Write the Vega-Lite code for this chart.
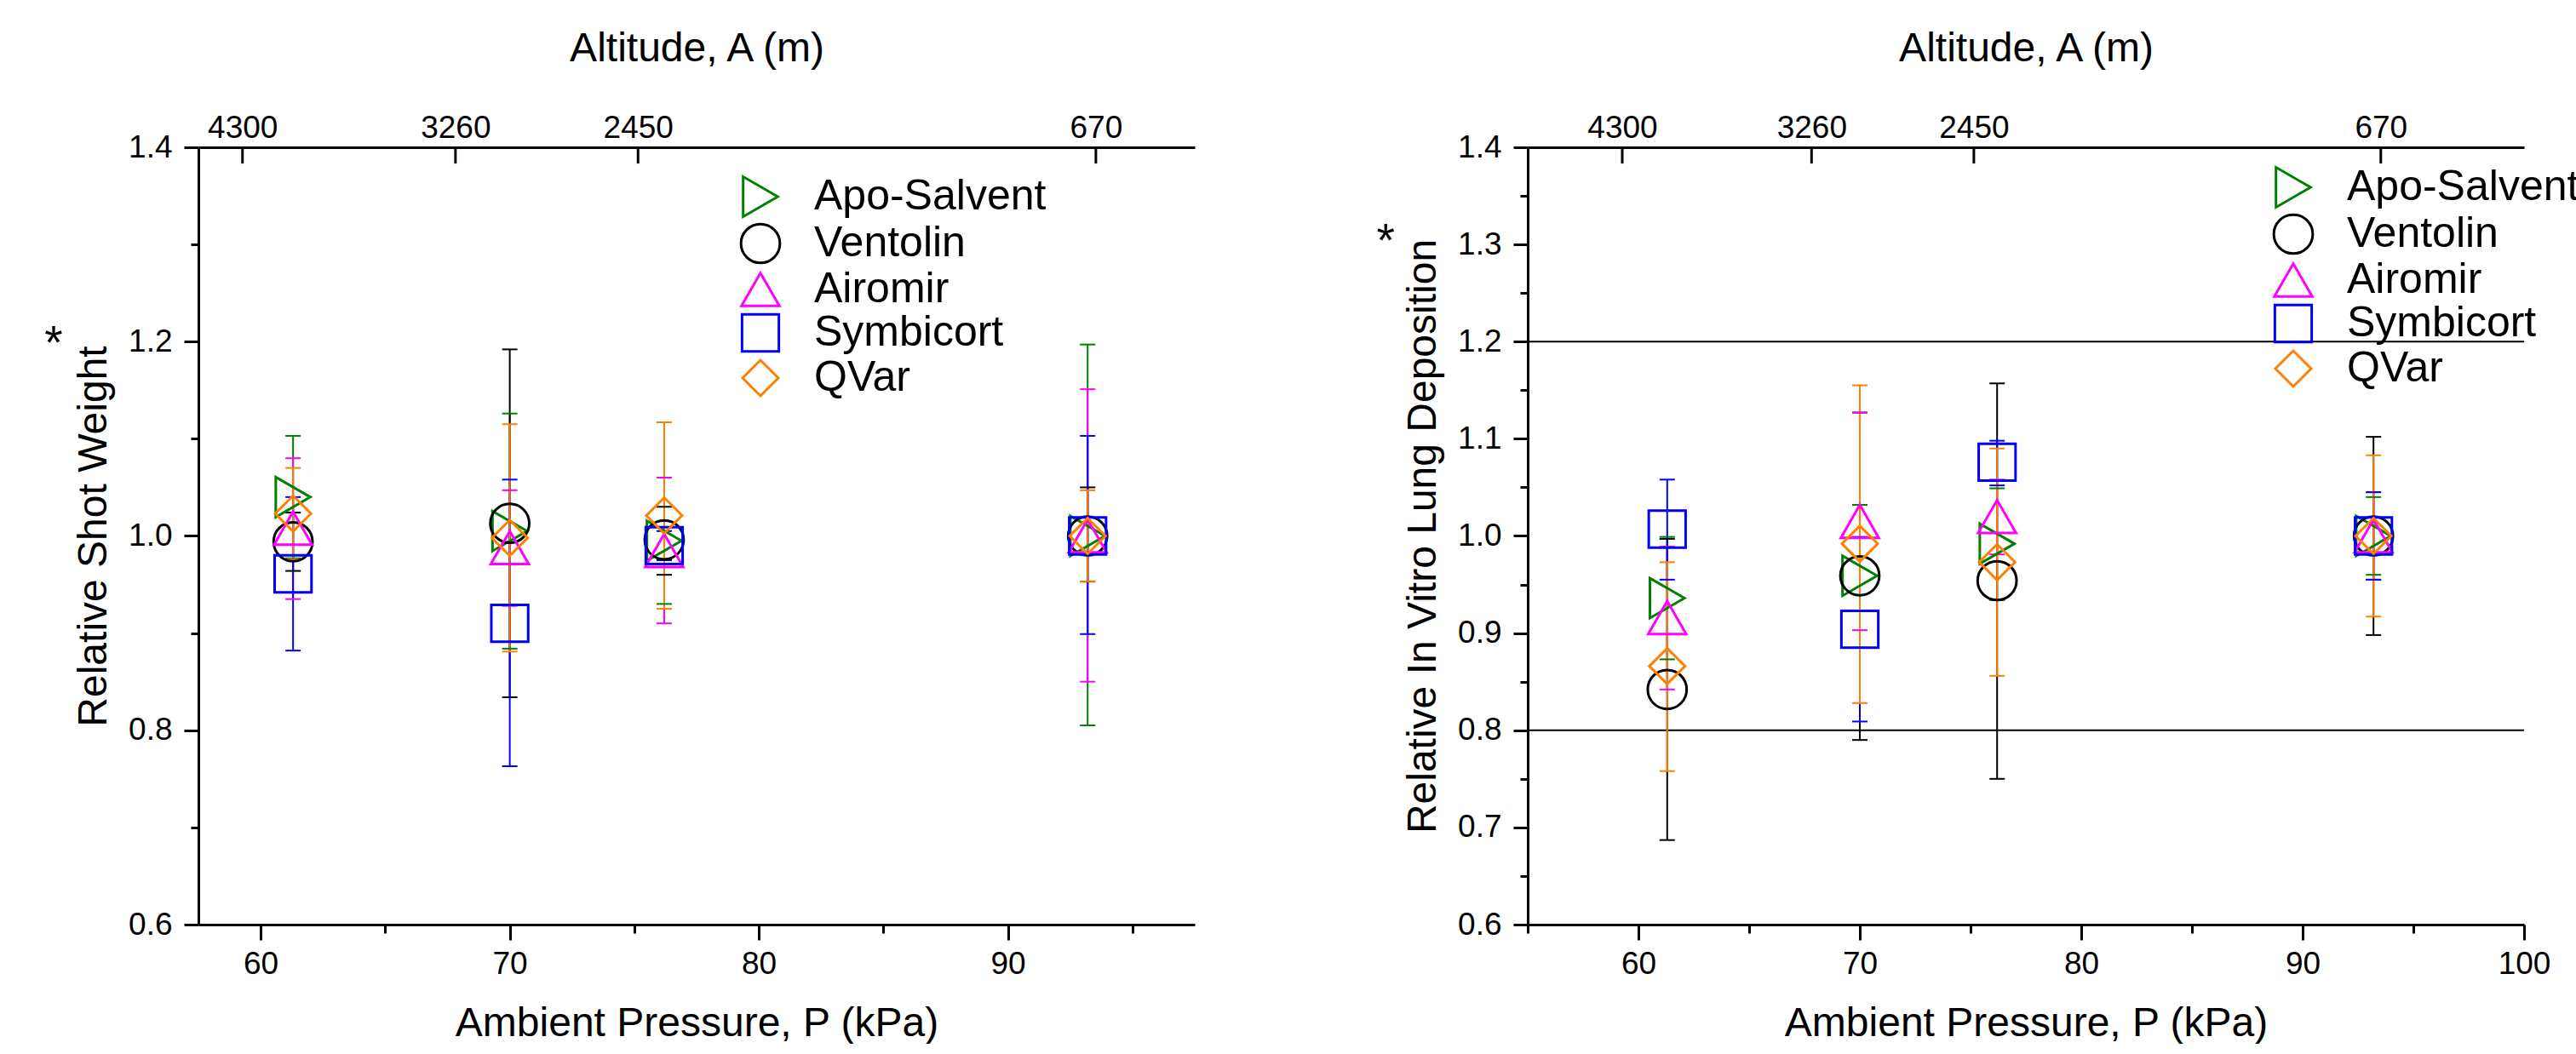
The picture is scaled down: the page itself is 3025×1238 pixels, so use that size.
{
  "$schema": "https://vega.github.io/schema/vega-lite/v6.json",
  "background": "white",
  "padding": {"left": 52, "top": 33, "right": 0, "bottom": 0},
  "spacing": 391,
  "bounds": "flush",
  "config": {
    "font": "Liberation Sans",
    "view": {"stroke": null},
    "axis": {
      "domainColor": "black", "domainWidth": 3, "tickColor": "black", "tickWidth": 3,
      "labelColor": "black", "labelFontSize": 37, "labelFont": "Liberation Sans",
      "titleColor": "black", "titleFontSize": 48, "titleFontWeight": "normal", "titleFont": "Liberation Sans",
      "grid": false, "labelOverlap": false, "labelFlush": false
    },
    "legend": {
      "labelFont": "Liberation Sans", "labelFontSize": 50, "labelColor": "black", "labelLimit": 1000,
      "symbolStrokeWidth": 3, "padding": 0, "rowPadding": -4
    }
  },
  "datasets": {
    "sw": [
      {"product": "Apo-Salvent", "P": 61.3, "mean": 1.040, "lo": 0.977, "hi": 1.103},
      {"product": "Ventolin", "P": 61.3, "mean": 0.994, "lo": 0.964, "hi": 1.024},
      {"product": "Airomir", "P": 61.3, "mean": 1.008, "lo": 0.935, "hi": 1.080},
      {"product": "Symbicort", "P": 61.3, "mean": 0.961, "lo": 0.882, "hi": 1.040},
      {"product": "QVar", "P": 61.3, "mean": 1.023, "lo": 0.976, "hi": 1.070},
      {"product": "Apo-Salvent", "P": 70.0, "mean": 1.005, "lo": 0.884, "hi": 1.126},
      {"product": "Ventolin", "P": 70.0, "mean": 1.013, "lo": 0.834, "hi": 1.192},
      {"product": "Airomir", "P": 70.0, "mean": 0.988, "lo": 0.928, "hi": 1.047},
      {"product": "Symbicort", "P": 70.0, "mean": 0.910, "lo": 0.763, "hi": 1.058},
      {"product": "QVar", "P": 70.0, "mean": 0.998, "lo": 0.881, "hi": 1.115},
      {"product": "Apo-Salvent", "P": 76.2, "mean": 0.995, "lo": 0.930, "hi": 1.060},
      {"product": "Ventolin", "P": 76.2, "mean": 0.996, "lo": 0.960, "hi": 1.030},
      {"product": "Airomir", "P": 76.2, "mean": 0.985, "lo": 0.910, "hi": 1.060},
      {"product": "Symbicort", "P": 76.2, "mean": 0.990, "lo": 0.975, "hi": 1.005},
      {"product": "QVar", "P": 76.2, "mean": 1.021, "lo": 0.925, "hi": 1.117},
      {"product": "Apo-Salvent", "P": 93.2, "mean": 1.000, "lo": 0.805, "hi": 1.197},
      {"product": "Ventolin", "P": 93.2, "mean": 1.000, "lo": 0.953, "hi": 1.050},
      {"product": "Airomir", "P": 93.2, "mean": 1.000, "lo": 0.850, "hi": 1.151},
      {"product": "Symbicort", "P": 93.2, "mean": 1.000, "lo": 0.899, "hi": 1.103},
      {"product": "QVar", "P": 93.2, "mean": 1.000, "lo": 0.953, "hi": 1.047}
    ],
    "ivld": [
      {"product": "Apo-Salvent", "P": 61.3, "mean": 0.936, "lo": 0.873, "hi": 0.999},
      {"product": "Ventolin", "P": 61.3, "mean": 0.842, "lo": 0.687, "hi": 0.997},
      {"product": "Airomir", "P": 61.3, "mean": 0.916, "lo": 0.842, "hi": 0.989},
      {"product": "Symbicort", "P": 61.3, "mean": 1.007, "lo": 0.955, "hi": 1.058},
      {"product": "QVar", "P": 61.3, "mean": 0.866, "lo": 0.758, "hi": 0.973},
      {"product": "Apo-Salvent", "P": 70.0, "mean": 0.959, "lo": 0.885, "hi": 1.032},
      {"product": "Ventolin", "P": 70.0, "mean": 0.959, "lo": 0.790, "hi": 1.127},
      {"product": "Airomir", "P": 70.0, "mean": 1.015, "lo": 0.903, "hi": 1.127},
      {"product": "Symbicort", "P": 70.0, "mean": 0.904, "lo": 0.809, "hi": 0.999},
      {"product": "QVar", "P": 70.0, "mean": 0.992, "lo": 0.828, "hi": 1.155},
      {"product": "Apo-Salvent", "P": 76.2, "mean": 0.992, "lo": 0.934, "hi": 1.049},
      {"product": "Ventolin", "P": 76.2, "mean": 0.954, "lo": 0.750, "hi": 1.157},
      {"product": "Airomir", "P": 76.2, "mean": 1.020, "lo": 0.981, "hi": 1.058},
      {"product": "Symbicort", "P": 76.2, "mean": 1.076, "lo": 1.052, "hi": 1.098},
      {"product": "QVar", "P": 76.2, "mean": 0.973, "lo": 0.856, "hi": 1.090},
      {"product": "Apo-Salvent", "P": 93.2, "mean": 1.000, "lo": 0.960, "hi": 1.040},
      {"product": "Ventolin", "P": 93.2, "mean": 1.000, "lo": 0.898, "hi": 1.102},
      {"product": "Airomir", "P": 93.2, "mean": 1.000, "lo": 0.955, "hi": 1.045},
      {"product": "Symbicort", "P": 93.2, "mean": 1.000, "lo": 0.955, "hi": 1.045},
      {"product": "QVar", "P": 93.2, "mean": 1.000, "lo": 0.917, "hi": 1.083}
    ],
    "alt": [
      {"A": 4300, "P": 59.27}, {"A": 3260, "P": 67.82}, {"A": 2450, "P": 75.15}, {"A": 670, "P": 93.53}
    ],
    "refs": [{"ref": 0.8}, {"ref": 1.2}],
    "star": [{"s": "*"}]
  },
  "resolve": {"scale": {"color": "independent", "shape": "independent", "size": "independent", "fill": "independent", "stroke": "independent"}},
  "hconcat": [
    {
      "width": 1170, "height": 913,
      "resolve": {"axis": {"x": "independent"}},
      "layer": [
        {
          "data": {"name": "alt"},
          "mark": {"type": "rule", "strokeWidth": 3, "color": "black"},
          "encoding": {
            "x": {"field": "P", "type": "quantitative", "scale": {"domain": [57.5, 97.5], "nice": false, "zero": false},
              "axis": {"orient": "top", "title": "Altitude, A (m)", "values": [59.27, 67.82, 75.15, 93.53],
                "labelExpr": "datum.value < 63 ? '4300' : datum.value < 72 ? '3260' : datum.value < 85 ? '2450' : '670'",
                "ticks": false, "labelPadding": 4, "titlePadding": 50}},
            "y": {"datum": 1.4, "type": "quantitative", "scale": {"domain": [0.6, 1.4], "nice": false, "zero": false}},
            "y2": {"datum": 1.3833}
          }
        },
        {
          "data": {"name": "star"},
          "mark": {"type": "text", "fontSize": 55, "align": "center", "baseline": "alphabetic", "color": "black", "font": "Liberation Sans"},
          "encoding": {
            "x": {"datum": 51.69, "type": "quantitative", "axis": null},
            "y": {"datum": 1.1826, "type": "quantitative"},
            "text": {"field": "s"}
          }
        },
        {
          "data": {"name": "sw"},
          "mark": {"type": "rule", "strokeWidth": 2},
          "encoding": {
            "x": {"field": "P", "type": "quantitative", "axis": null},
            "y": {"field": "lo", "type": "quantitative"},
            "y2": {"field": "hi"},
            "stroke": {"field": "product", "type": "nominal", "legend": null,
              "scale": {"domain": ["QVar", "Symbicort", "Airomir", "Ventolin", "Apo-Salvent"], "range": ["#FF8000", "#0000FF", "#FF00FF", "#000000", "#008000"]}}
          }
        },
        {
          "data": {"name": "sw"},
          "mark": {"type": "tick", "orient": "horizontal", "size": 18, "thickness": 2, "opacity": 1},
          "encoding": {
            "x": {"field": "P", "type": "quantitative", "axis": null},
            "y": {"field": "lo", "type": "quantitative"},
            "fill": {"field": "product", "type": "nominal", "legend": null,
              "scale": {"domain": ["Symbicort", "QVar", "Airomir", "Apo-Salvent", "Ventolin"], "range": ["#0000FF", "#FF8000", "#FF00FF", "#008000", "#000000"]}}
          }
        },
        {
          "data": {"name": "sw"},
          "mark": {"type": "tick", "orient": "horizontal", "size": 18, "thickness": 2, "opacity": 1},
          "encoding": {
            "x": {"field": "P", "type": "quantitative", "axis": null},
            "y": {"field": "hi", "type": "quantitative"},
            "fill": {"field": "product", "type": "nominal", "legend": null}
          }
        },
        {
          "data": {"name": "sw"},
          "mark": {"type": "point", "filled": false, "strokeWidth": 3, "opacity": 1},
          "encoding": {
            "x": {"field": "P", "type": "quantitative",
              "axis": {"orient": "bottom", "title": "Ambient Pressure, P (kPa)", "values": [60, 65, 70, 75, 80, 85, 90, 95],
                "labelExpr": "datum.value % 10 == 0 ? datum.value : ''",
                "tickSize": {"condition": {"test": "datum.value % 10 == 0", "value": 18}, "value": 10},
                "labelPadding": 10, "titlePadding": 28}},
            "y": {"field": "mean", "type": "quantitative",
              "axis": {"title": "Relative Shot Weight",
                "values": [0.6, 0.7, 0.8, 0.9, 1.0, 1.1, 1.2, 1.3, 1.4],
                "labelExpr": "round(datum.value * 10) % 2 == 0 ? format(datum.value, '.1f') : ''",
                "tickSize": {"condition": {"test": "round(datum.value * 10) % 2 == 0", "value": 17}, "value": 9},
                "labelPadding": 14, "titlePadding": 16}},
            "color": {"field": "product", "type": "nominal",
              "scale": {"domain": ["Apo-Salvent", "Ventolin", "Airomir", "Symbicort", "QVar"], "range": ["#008000", "#000000", "#FF00FF", "#0000FF", "#FF8000"]},
              "legend": {"orient": "none", "legendX": 635, "legendY": 33, "title": null, "labelOffset": 38}},
            "shape": {"field": "product", "type": "nominal",
              "scale": {"domain": ["Apo-Salvent", "Ventolin", "Airomir", "Symbicort", "QVar"], "range": ["triangle-right", "circle", "triangle-up", "square", "diamond"]}},
            "size": {"field": "product", "type": "nominal",
              "scale": {"domain": ["Apo-Salvent", "Ventolin", "Airomir", "Symbicort", "QVar"], "range": [2200, 1764, 2600, 1370, 2900]}}
          }
        }
      ]
    },
    {
      "width": 1170, "height": 913,
      "resolve": {"axis": {"x": "independent"}},
      "layer": [
        {
          "data": {"name": "alt"},
          "mark": {"type": "rule", "strokeWidth": 3, "color": "black"},
          "encoding": {
            "x": {"field": "P", "type": "quantitative", "scale": {"domain": [55, 100], "nice": false, "zero": false},
              "axis": {"orient": "top", "title": "Altitude, A (m)", "values": [59.27, 67.82, 75.15, 93.53],
                "labelExpr": "datum.value < 63 ? '4300' : datum.value < 72 ? '3260' : datum.value < 85 ? '2450' : '670'",
                "ticks": false, "labelPadding": 4, "titlePadding": 50}},
            "y": {"datum": 1.4, "type": "quantitative", "scale": {"domain": [0.6, 1.4], "nice": false, "zero": false}},
            "y2": {"datum": 1.3833}
          }
        },
        {
          "data": {"name": "refs"},
          "mark": {"type": "rule", "strokeWidth": 2, "color": "black"},
          "encoding": {
            "y": {"field": "ref", "type": "quantitative"}
          }
        },
        {
          "data": {"name": "star"},
          "mark": {"type": "text", "fontSize": 55, "align": "center", "baseline": "alphabetic", "color": "black", "font": "Liberation Sans"},
          "encoding": {
            "x": {"datum": 48.58, "type": "quantitative", "axis": null},
            "y": {"datum": 1.2878, "type": "quantitative"},
            "text": {"field": "s"}
          }
        },
        {
          "data": {"name": "ivld"},
          "mark": {"type": "rule", "strokeWidth": 2},
          "encoding": {
            "x": {"field": "P", "type": "quantitative", "axis": null},
            "y": {"field": "lo", "type": "quantitative"},
            "y2": {"field": "hi"},
            "stroke": {"field": "product", "type": "nominal", "legend": null,
              "scale": {"domain": ["QVar", "Symbicort", "Airomir", "Ventolin", "Apo-Salvent"], "range": ["#FF8000", "#0000FF", "#FF00FF", "#000000", "#008000"]}}
          }
        },
        {
          "data": {"name": "ivld"},
          "mark": {"type": "tick", "orient": "horizontal", "size": 18, "thickness": 2, "opacity": 1},
          "encoding": {
            "x": {"field": "P", "type": "quantitative", "axis": null},
            "y": {"field": "lo", "type": "quantitative"},
            "fill": {"field": "product", "type": "nominal", "legend": null,
              "scale": {"domain": ["Symbicort", "QVar", "Airomir", "Apo-Salvent", "Ventolin"], "range": ["#0000FF", "#FF8000", "#FF00FF", "#008000", "#000000"]}}
          }
        },
        {
          "data": {"name": "ivld"},
          "mark": {"type": "tick", "orient": "horizontal", "size": 18, "thickness": 2, "opacity": 1},
          "encoding": {
            "x": {"field": "P", "type": "quantitative", "axis": null},
            "y": {"field": "hi", "type": "quantitative"},
            "fill": {"field": "product", "type": "nominal", "legend": null}
          }
        },
        {
          "data": {"name": "ivld"},
          "mark": {"type": "point", "filled": false, "strokeWidth": 3, "opacity": 1},
          "encoding": {
            "x": {"field": "P", "type": "quantitative",
              "axis": {"orient": "bottom", "title": "Ambient Pressure, P (kPa)", "values": [55, 60, 65, 70, 75, 80, 85, 90, 95, 100],
                "labelExpr": "datum.value % 10 == 0 ? datum.value : ''",
                "tickSize": {"condition": {"test": "datum.value % 10 == 0", "value": 18}, "value": 10},
                "labelPadding": 10, "titlePadding": 28}},
            "y": {"field": "mean", "type": "quantitative",
              "axis": {"title": "Relative In Vitro Lung Deposition",
                "values": [0.6, 0.65, 0.7, 0.75, 0.8, 0.85, 0.9, 0.95, 1.0, 1.05, 1.1, 1.15, 1.2, 1.25, 1.3, 1.35, 1.4],
                "labelExpr": "round(datum.value * 100) % 10 == 0 ? format(datum.value, '.1f') : ''",
                "tickSize": {"condition": {"test": "round(datum.value * 100) % 10 == 0", "value": 17}, "value": 9},
                "labelPadding": 14, "titlePadding": 16}},
            "color": {"field": "product", "type": "nominal",
              "scale": {"domain": ["Apo-Salvent", "Ventolin", "Airomir", "Symbicort", "QVar"], "range": ["#008000", "#000000", "#FF00FF", "#0000FF", "#FF8000"]},
              "legend": {"orient": "none", "legendX": 874, "legendY": 22, "title": null, "labelOffset": 38}},
            "shape": {"field": "product", "type": "nominal",
              "scale": {"domain": ["Apo-Salvent", "Ventolin", "Airomir", "Symbicort", "QVar"], "range": ["triangle-right", "circle", "triangle-up", "square", "diamond"]}},
            "size": {"field": "product", "type": "nominal",
              "scale": {"domain": ["Apo-Salvent", "Ventolin", "Airomir", "Symbicort", "QVar"], "range": [2200, 1764, 2600, 1370, 2900]}}
          }
        }
      ]
    }
  ]
}
